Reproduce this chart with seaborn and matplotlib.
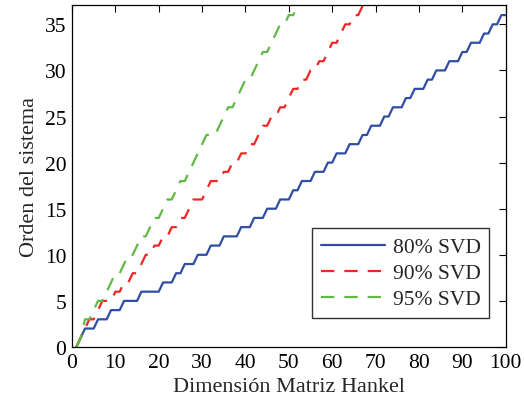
import matplotlib
matplotlib.use("Agg")
import matplotlib.pyplot as plt
import seaborn as sns
import pandas as pd

series_names = ["80% SVD", "90% SVD", "95% SVD"]

blue_80 = [0,1,2,2,2,3,3,3,4,4,4,5,5,5,5,6,6,6,6,6,7,7,7,8,8,9,9,9,10,10,10,
           11,11,11,12,12,12,12,13,13,13,14,14,14,15,15,15,16,16,16,17,17,18,18,18,
           19,19,19,20,20,21,21,21,22,22,22,23,23,24,24,24,25,25,26,26,26,27,27,
           28,28,28,29,29,30,30,30,31,31,31,32,32,33,33,33,34,34,35,35,36,36]
red_90 = [0,1,2,3,3,4,5,5,5,6,6,7,7,8,8,9,10,10,11,11,12,12,13,13,14,14,15,16,16,16,
          17,18,18,18,19,19,20,20,21,21,22,22,23,24,24,25,25,26,26,27,28,28,29,29,
          30,30,31,31,32,33,33,34,35,35,36,36,37,37,38]
green_95 = [0,1,3,3,4,5,5,6,7,8,8,9,10,10,11,12,12,13,14,14,15,16,16,17,18,18,19,20,
            21,22,23,23,23,24,25,26,26,27,28,29,29,30,31,32,32,33,34,35,35,36,36,37,38]

x_ticks = [0, 10, 20, 30, 40, 50, 60, 70, 80, 90, 100]
y_ticks = [0, 5, 10, 15, 20, 25, 30, 35]
x_label = "Dimensión Matriz Hankel"
y_label = "Orden del sistema"

rows = []
for name, vals in zip(series_names, [blue_80, red_90, green_95]):
    for i, v in enumerate(vals):
        rows.append({"x": i + 1, "y": v, "serie": name})
df = pd.DataFrame(rows)

sns.set_style("white")
plt.rcParams["font.family"] = ["Liberation Serif", "DejaVu Serif"]

fig = plt.figure(figsize=(5.24, 4.06), dpi=100)
ax = fig.add_axes([0.1374, 0.1429, 0.8277, 0.8424])

palette = {"80% SVD": "#2f4ea3", "90% SVD": "#f02626", "95% SVD": "#62b846"}
dashes = {"80% SVD": "", "90% SVD": (6, 4.5), "95% SVD": (6, 4.5)}
sns.lineplot(data=df, x="x", y="y", hue="serie", style="serie",
             palette=palette, dashes=dashes, linewidth=1.6, ax=ax,
             hue_order=series_names, style_order=series_names)

ax.set_xlim(0, 100)
ax.set_ylim(0, 37.1)
ax.set_xticks(x_ticks)
ax.set_yticks(y_ticks)
ax.tick_params(direction="in", top=True, right=True, length=5, width=0.8,
               labelsize=15.5, colors="black", pad=4)
for s in ax.spines.values():
    s.set_color("black")
    s.set_linewidth(0.9)
ax.set_xlabel(x_label, fontsize=16, labelpad=4)
ax.set_ylabel(y_label, fontsize=16, labelpad=4)

leg = ax.legend(loc="lower right", bbox_to_anchor=(0.962, 0.085), borderaxespad=0,
                fontsize=15.5, frameon=True, fancybox=False, edgecolor="black",
                handlelength=3.0, handletextpad=0.35, borderpad=0.4,
                labelspacing=0.28)
leg.get_frame().set_linewidth(1.0)
leg.set_title(None)

fig.savefig("out.png", dpi=100)
